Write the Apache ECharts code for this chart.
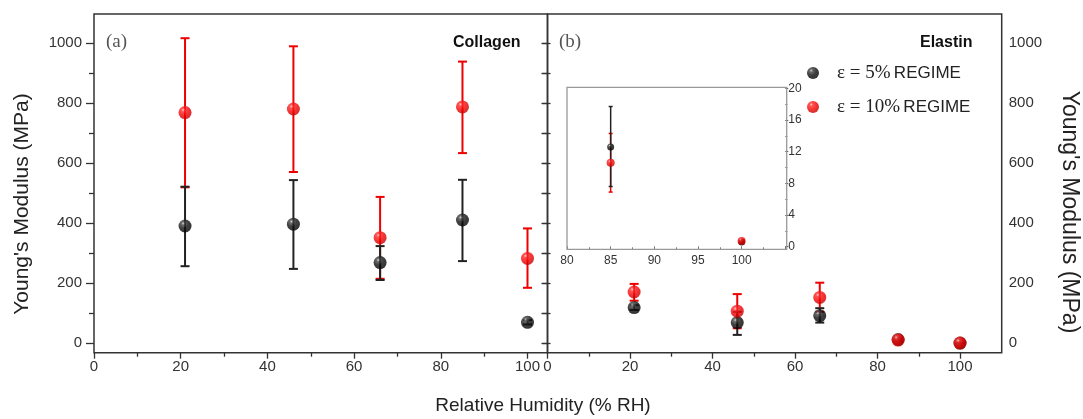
<!DOCTYPE html>
<html>
<head>
<meta charset="utf-8">
<script src="https://cdn.jsdelivr.net/npm/echarts@6/dist/echarts.min.js"></script>
<style>html,body{margin:0;padding:0;background:#fff}#c{width:1083px;height:419px}</style>
</head>
<body>
<div id="c"></div>
<script>
// ---- data ----
const rh = [21, 46, 66, 85, 100];
const collagen5   = [391, 397, 269, 411, 70];
const collagen5Lo = [257, 248, 211, 274, 63];
const collagen5Hi = [522, 544, 324, 545, 77];
const collagen10   = [769, 781, 352, 788, 283];
const collagen10Lo = [520, 571, 215, 634, 185];
const collagen10Hi = [1017, 990, 488, 939, 383];
const elastin5   = [119, 69, 92, 12.6, 0.6];
const elastin5Lo = [111, 28, 69, 7.6, 0.5];
const elastin5Hi = [127, 105, 117, 17.7, 0.7];
const elastin10   = [171, 107, 153, 10.6, 0.72];
const elastin10Lo = [142, 50, 105, 6.9, 0.6];
const elastin10Hi = [198, 164, 202, 14.3, 0.85];
const xTicksMain = [0, 20, 40, 60, 80, 100];
const yTicksMain = [0, 200, 400, 600, 800, 1000];
const xTicksInset = [80, 85, 90, 95, 100, 105];
const yTicksInset = [0, 4, 8, 12, 16, 20];
const name5 = 'eps5', name10 = 'eps10';

const FONT = "'Liberation Sans', Arial, sans-serif";
const SERIF = "'Liberation Serif', 'Times New Roman', serif";
const AX = '#333';

const blackBall = {type:'radial', x:0.35, y:0.3, r:0.75, colorStops:[
  {offset:0, color:'#cfcfcf'},{offset:0.16, color:'#4a4a4a'},{offset:0.5, color:'#111'},{offset:1, color:'#000'}]};
const redBall = {type:'radial', x:0.35, y:0.3, r:0.75, colorStops:[
  {offset:0, color:'#ffc0c0'},{offset:0.18, color:'#ff2a2a'},{offset:0.6, color:'#f00000'},{offset:1, color:'#c00000'}]};

function pts(xs, ys, filt) {
  return xs.map((x,i)=>[x, ys[i]]).filter(p => !filt || filt(p[0]));
}
function errs(xs, lo, hi, filt) {
  return xs.map((x,i)=>[x, lo[i], hi[i]]).filter(p => !filt || filt(p[0]));
}
function errRender(capW, color, lw) {
  return function(params, api) {
    const x = api.value(0), lo = api.value(1), hi = api.value(2);
    const a = api.coord([x, lo]), b = api.coord([x, hi]);
    const st = {stroke: color, lineWidth: lw};
    return {type:'group', children:[
      {type:'line', shape:{x1:a[0], y1:a[1], x2:b[0], y2:b[1]}, style:st},
      {type:'line', shape:{x1:a[0]-capW/2, y1:a[1], x2:a[0]+capW/2, y2:a[1]}, style:st},
      {type:'line', shape:{x1:b[0]-capW/2, y1:b[1], x2:b[0]+capW/2, y2:b[1]}, style:st}
    ]};
  };
}
function errSeries(xi, yi, data, color, capW, lw) {
  return {type:'custom', xAxisIndex:xi, yAxisIndex:yi, data:data, encode:{x:0, y:[1,2]},
    renderItem: errRender(capW, color, lw), silent:true, z:2};
}
function scat(name, xi, yi, data, ball, size) {
  return {type:'scatter', name:name, xAxisIndex:xi, yAxisIndex:yi, data:data, symbol:'circle',
    symbolSize:size, itemStyle:{color:ball}, z:3, clip:false};
}

const labelMain = {color:AX, fontSize:15, fontFamily:FONT, formatter: v => String(v)};
const tickStyle = {color:AX, width:1.3};
const xMin = xTicksMain[0], xMax = xTicksMain[xTicksMain.length-1], xInt = xTicksMain[1]-xTicksMain[0];
const yMin = yTicksMain[0], yMax = yTicksMain[yTicksMain.length-1], yInt = yTicksMain[1]-yTicksMain[0];
const ixMin = xTicksInset[0], ixMax = xTicksInset[xTicksInset.length-1], ixInt = xTicksInset[1]-xTicksInset[0];
const iyMin = yTicksInset[0], iyMax = yTicksInset[yTicksInset.length-1], iyInt = yTicksInset[1]-yTicksInset[0];

function xHidden(gi, mn, mx, it) {
  return {type:'value', gridIndex:gi, min:mn, max:mx, interval:it, show:false, splitLine:{show:false}};
}
function xVisible(gi) {
  return {type:'value', gridIndex:gi, min:xMin, max:xMax, interval:xInt, position:'bottom',
    axisLine:{show:false}, axisTick:{show:true, length:6, lineStyle:tickStyle},
    minorTick:{show:true, splitNumber:2, length:4, lineStyle:tickStyle},
    axisLabel:Object.assign({margin:7}, labelMain), splitLine:{show:false}};
}
function yHidden(gi) {
  return {type:'value', gridIndex:gi, min:0, max:1, show:false, splitLine:{show:false}};
}
function yMain(gi, pos, opts) {
  return Object.assign({type:'value', gridIndex:gi, min:yMin, max:yMax, interval:yInt, position:pos,
    axisLine:{show:false}, splitLine:{show:false}}, opts);
}

const chart = echarts.init(document.getElementById('c'), null, {renderer:'canvas'});
const inInset = x => x >= ixMin;

chart.setOption({
  animation:false,
  backgroundColor:'#fff',
  grid:[
    {left:94, top:43.3, width:433.5, height:300},      // 0 collagen data
    {left:547.5, top:43.3, width:412.5, height:300},   // 1 elastin data
    {left:567, top:88.3, width:218.3, height:158.4},   // 2 inset data
    {left:94, top:14, width:433.5, height:338.7},      // 3 collagen x axis
    {left:547.5, top:14, width:412.5, height:338.7},   // 4 elastin x axis
    {left:567, top:87.3, width:218.3, height:162}      // 5 inset x axis
  ],
  xAxis:[
    xHidden(0, xMin, xMax, xInt),
    xHidden(1, xMin, xMax, xInt),
    xHidden(2, ixMin, ixMax, ixInt),
    xVisible(3),
    xVisible(4),
    {type:'value', gridIndex:5, min:ixMin, max:ixMax, interval:ixInt, position:'bottom',
     axisLine:{show:false}, axisTick:{show:true, inside:true, length:3, lineStyle:{color:'#777'}},
     minorTick:{show:true, splitNumber:2, length:2, lineStyle:{color:'#777'}},
     axisLabel:{color:AX, fontSize:12, fontFamily:FONT, margin:5, showMaxLabel:false}, splitLine:{show:false}}
  ],
  yAxis:[
    yMain(0, 'left', {axisTick:{show:true, length:8, lineStyle:tickStyle},
      minorTick:{show:true, splitNumber:2, length:5, lineStyle:tickStyle},
      axisLabel:Object.assign({margin:12}, labelMain)}),
    yMain(1, 'right', {offset:41.7, axisTick:{show:true, inside:true, length:6, lineStyle:tickStyle},
      minorTick:{show:true, splitNumber:2, length:6, lineStyle:tickStyle},
      axisLabel:Object.assign({margin:7}, labelMain)}),
    yMain(1, 'left', {axisTick:{show:true, length:5, lineStyle:tickStyle},
      minorTick:{show:true, splitNumber:2, length:5, lineStyle:tickStyle},
      axisLabel:{show:false}}),
    yMain(1, 'left', {axisTick:{show:true, inside:true, length:3, lineStyle:tickStyle},
      minorTick:{show:true, splitNumber:2, length:3, lineStyle:tickStyle},
      axisLabel:{show:false}}),
    {type:'value', gridIndex:2, min:iyMin, max:iyMax, interval:iyInt, position:'right', axisLine:{show:false},
     axisTick:{show:true, length:3, lineStyle:{color:'#555'}},
     minorTick:{show:true, splitNumber:2, length:2, lineStyle:{color:'#777'}},
     axisLabel:{color:AX, fontSize:12, fontFamily:FONT, margin:3}, splitLine:{show:false}},
    yHidden(3), yHidden(4), yHidden(5)
  ],
  legend:{
    data:[name5, name10], orient:'vertical', left:807, top:62, padding:0, itemWidth:12, itemHeight:12,
    itemGap:12, icon:'circle', selectedMode:false,
    formatter: n => n === name5 ? '{s|ε = 5%} {a|REGIME}' : '{s|ε = 10%} {a|REGIME}',
    textStyle:{lineHeight:22, rich:{
      s:{fontFamily:SERIF, fontSize:19, color:'#222', padding:[0,0,0,13], lineHeight:22},
      a:{fontFamily:FONT, fontSize:17, color:'#222', lineHeight:22}}}
  },
  graphic:[
    {type:'rect', shape:{x:94, y:14, width:453.5, height:338.7}, style:{fill:'none', stroke:AX, lineWidth:1.5}, z:10, silent:true},
    {type:'rect', shape:{x:547.5, y:14, width:454.2, height:338.7}, style:{fill:'none', stroke:AX, lineWidth:1.5}, z:10, silent:true},
    {type:'rect', shape:{x:567, y:87.3, width:219.7, height:162}, style:{fill:'none', stroke:'#999', lineWidth:1.3}, z:10, silent:true},
    {type:'text', left:106, top:33, style:{text:'(a)', font:"19px 'Liberation Serif', serif", fill:'#555'}},
    {type:'text', left:559, top:33, style:{text:'(b)', font:"19px 'Liberation Serif', serif", fill:'#555'}},
    {type:'text', left:453, top:35, style:{text:'Collagen', font:"bold 16px 'Liberation Sans', Arial", fill:'#111'}},
    {type:'text', left:920, top:35, style:{text:'Elastin', font:"bold 16px 'Liberation Sans', Arial", fill:'#111'}},
    {type:'text', x:22, y:204, rotation:Math.PI/2, style:{text:"Young's Modulus (MPa)", font:"21px 'Liberation Sans', Arial", fill:'#222', align:'center', verticalAlign:'middle'}},
    {type:'text', x:1069, y:212, rotation:-Math.PI/2, style:{text:"Young's Modulus (MPa)", font:"23px 'Liberation Sans', Arial", fill:'#222', align:'center', verticalAlign:'middle'}},
    {type:'text', x:543, y:406, style:{text:'Relative Humidity (% RH)', font:"19px 'Liberation Sans', Arial", fill:'#222', align:'center', verticalAlign:'middle'}}
  ],
  series:[
    errSeries(0, 0, errs(rh, collagen10Lo, collagen10Hi), '#ee0000', 9, 2),
    errSeries(0, 0, errs(rh, collagen5Lo, collagen5Hi), '#222', 9, 2),
    scat(name5, 0, 0, pts(rh, collagen5), blackBall, 13),
    scat(name10, 0, 0, pts(rh, collagen10), redBall, 13),
    errSeries(1, 1, errs(rh, elastin10Lo, elastin10Hi), '#ee0000', 9, 2),
    errSeries(1, 1, errs(rh, elastin5Lo, elastin5Hi), '#222', 9, 2),
    scat(name5, 1, 1, pts(rh, elastin5), blackBall, 13),
    scat(name10, 1, 1, pts(rh, elastin10), redBall, 13),
    errSeries(2, 4, errs(rh, elastin10Lo, elastin10Hi, inInset), '#ee0000', 4, 1.5),
    errSeries(2, 4, errs(rh, elastin5Lo, elastin5Hi, inInset), '#222', 4, 1.5),
    scat(name5, 2, 4, pts(rh, elastin5, inInset), blackBall, 7),
    scat(name10, 2, 4, pts(rh, elastin10, inInset), redBall, 8)
  ]
});
</script>
</body>
</html>
